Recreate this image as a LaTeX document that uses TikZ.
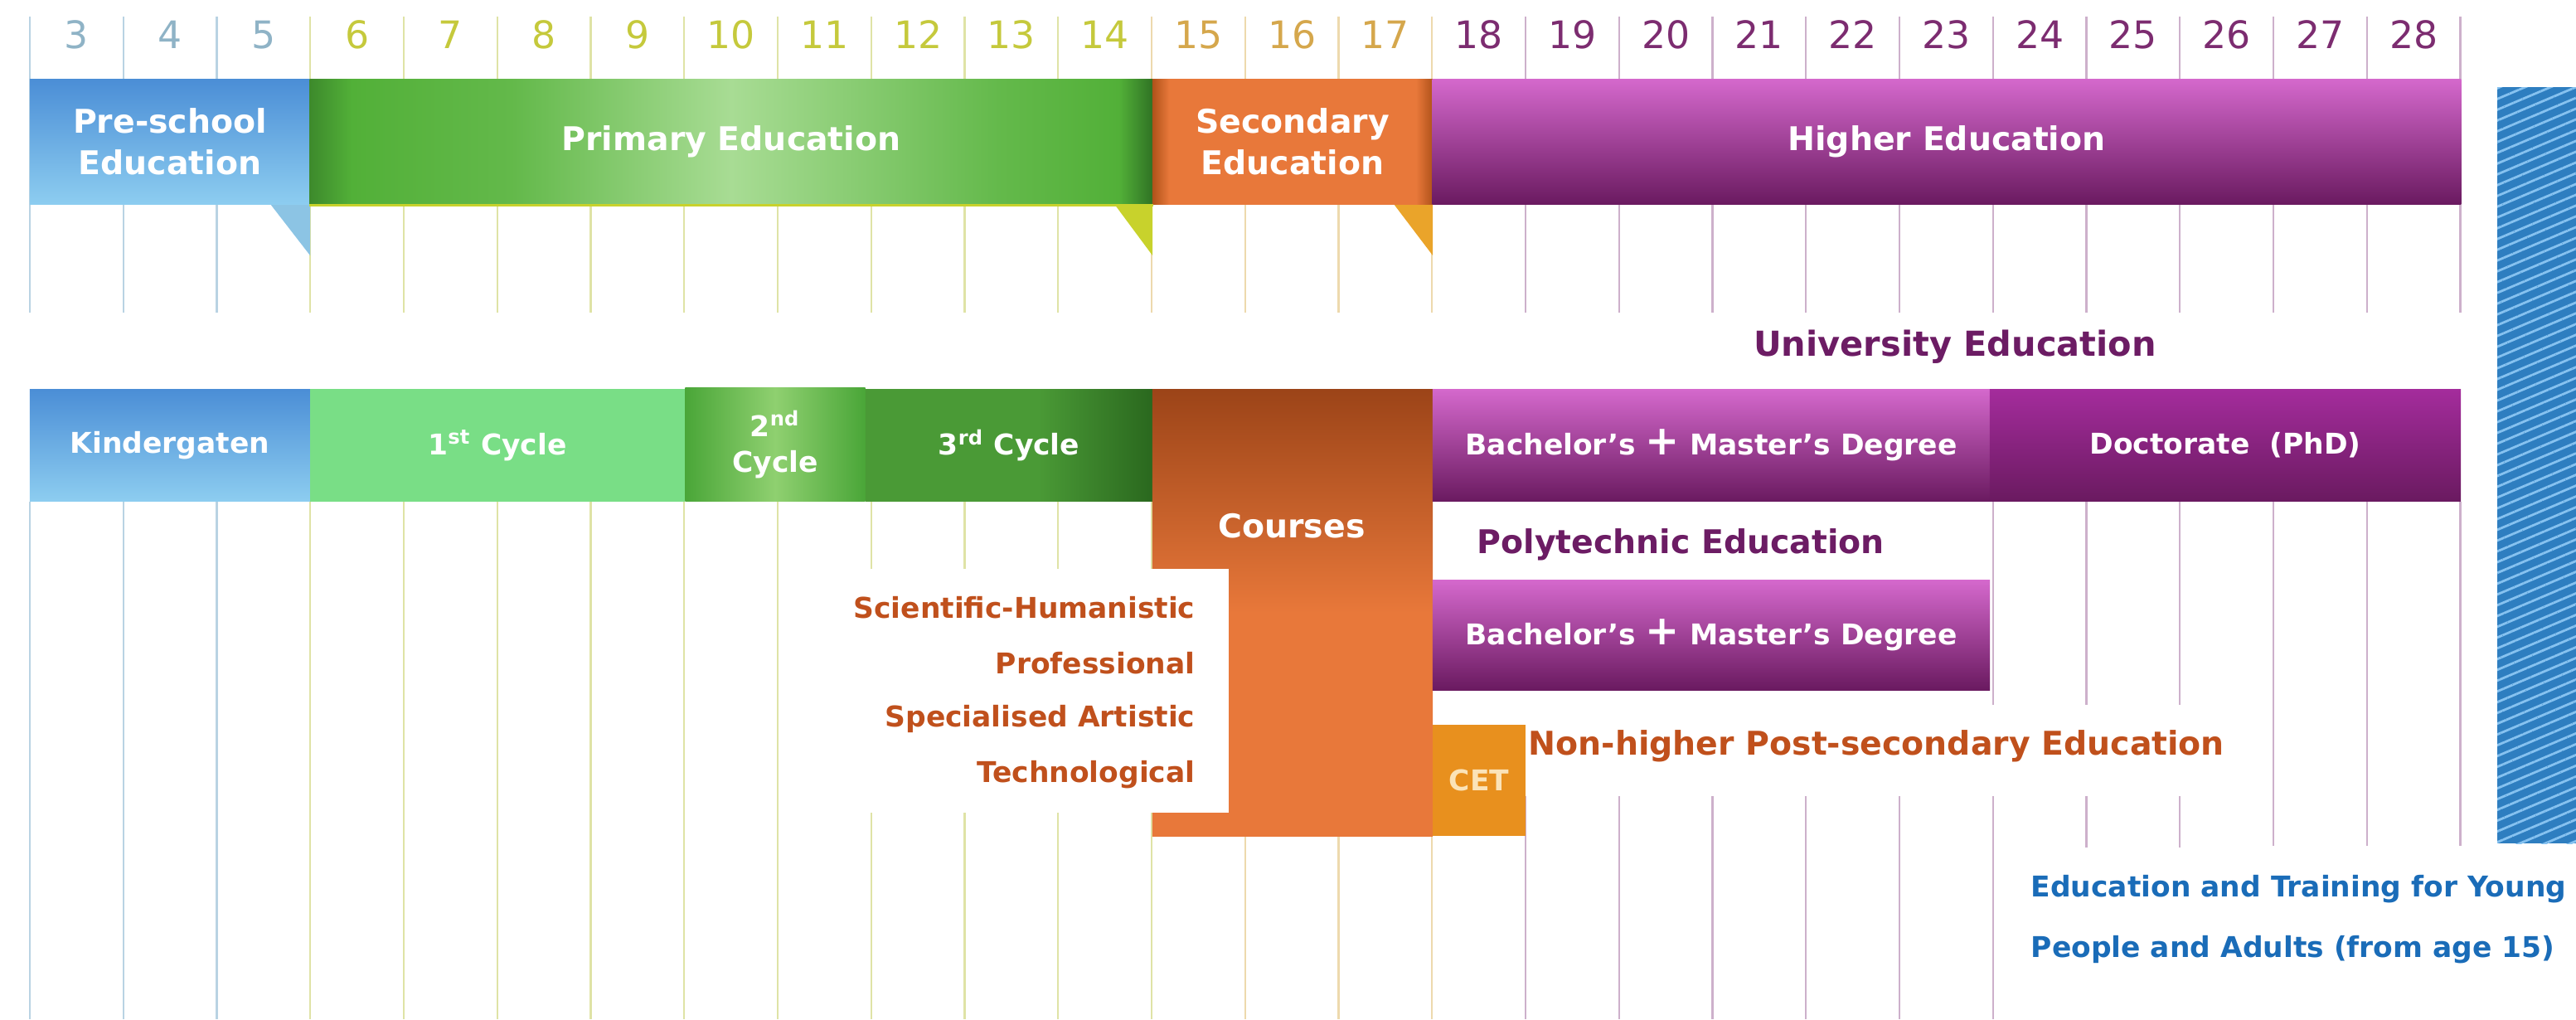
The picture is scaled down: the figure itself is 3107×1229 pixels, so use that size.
\documentclass[tikz,border=0pt]{standalone}
\usepackage{fontspec}
\setmainfont{DejaVu Sans}
\usepackage{xcolor}
\usepackage{tikz}
\usetikzlibrary{patterns.meta}

\definecolor{skyblue}{HTML}{4B8ED6}
\definecolor{paleblue}{HTML}{8DCDF0}
\definecolor{lineblue}{HTML}{B9D3E3}
\definecolor{numblue}{HTML}{8FB3C6}
\definecolor{numgreen}{HTML}{C5C93C}
\definecolor{linegreen}{HTML}{DFE3A6}
\definecolor{numgold}{HTML}{D5A74C}
\definecolor{linegold}{HTML}{EDD9AD}
\definecolor{numpurple}{HTML}{7C2C70}
\definecolor{linepurple}{HTML}{CDB0CB}
\definecolor{purpletop}{HTML}{D468CC}
\definecolor{purplemid}{HTML}{A42C9C}
\definecolor{purplebot}{HTML}{6A1A60}
\definecolor{textpurple}{HTML}{6C1C64}
\definecolor{textorange}{HTML}{C0501C}
\definecolor{cetorange}{HTML}{E8901E}
\definecolor{cettext}{HTML}{FBE3B8}
\definecolor{cyclegreen}{HTML}{79DE86}
\definecolor{hatchblue}{HTML}{2E7EC0}
\definecolor{stripeblue}{HTML}{86C2F0}
\definecolor{textblue}{HTML}{1A6CB8}
\definecolor{tabblue}{HTML}{8CC4E4}
\definecolor{tabgreen}{HTML}{C8D22C}
\definecolor{tabgold}{HTML}{EAA42A}
\definecolor{pgdark}{HTML}{3D8A2C}
\definecolor{pgbright}{HTML}{52B038}
\definecolor{pglight}{HTML}{A8DC94}
\definecolor{pgdeep}{HTML}{2F7224}
\definecolor{sgedge}{HTML}{B0521A}
\definecolor{sgmain}{HTML}{E8783A}
\definecolor{csdeep}{HTML}{9C4418}
\definecolor{cgedge}{HTML}{4AA638}
\definecolor{cglight}{HTML}{8FD070}
\definecolor{tgedge}{HTML}{2A681E}
\definecolor{tgmain}{HTML}{4A9A36}

\pgfdeclarehorizontalshading{primaryshade}{100bp}{color(0bp)=(pgdark); color(25bp)=(pgdark); color(27.5bp)=(pgbright); color(37bp)=(pgbright!80!pglight); color(50bp)=(pglight); color(66bp)=(pgbright!80!pglight); color(73bp)=(pgbright); color(75bp)=(pgdeep); color(100bp)=(pgdeep)}
\pgfdeclarehorizontalshading{secondshade}{100bp}{color(0bp)=(sgedge); color(25bp)=(sgedge); color(28bp)=(sgmain); color(72bp)=(sgmain); color(75bp)=(sgedge); color(100bp)=(sgedge)}
\pgfdeclareverticalshading{courseshade}{100bp}{color(0bp)=(sgmain); color(25bp)=(sgmain); color(50bp)=(sgmain); color(75bp)=(csdeep); color(100bp)=(csdeep)}
\pgfdeclarehorizontalshading{cycletwoshade}{100bp}{color(0bp)=(cgedge); color(25bp)=(cgedge); color(50bp)=(cglight); color(75bp)=(cgedge); color(100bp)=(cgedge)}
\pgfdeclarehorizontalshading{cyclethreeshade}{100bp}{color(0bp)=(tgmain); color(25bp)=(tgmain); color(55bp)=(tgmain); color(75bp)=(tgedge); color(100bp)=(tgedge)}

\newcommand{\agefont}{\fontsize{13}{15}\selectfont}
\newcommand{\headfont}{\fontsize{11.2}{14.2}\selectfont\bfseries}
\newcommand{\cellfont}{\fontsize{9.8}{12.4}\selectfont\bfseries}
\newcommand{\namefont}{\fontsize{11.2}{13}\selectfont\bfseries}
\newcommand{\trackfont}{\fontsize{9.8}{12}\selectfont\bfseries}
\newcommand{\bigplus}{{\fontsize{14}{12}\selectfont +}}

\begin{document}
\begin{tikzpicture}[x=0.01cm, y=-0.01cm,
    grid/.style={line width=0.6pt},
    bar/.style={rectangle, inner sep=0pt, text=white, align=center},
    label/.style={inner sep=0pt, font=\namefont}]
    \useasboundingbox (0,0) rectangle (3107,1229);

    % ages and grid
    \foreach \from/\to/\c in {3/5/numblue,6/14/numgreen,15/17/numgold,18/28/numpurple}
        \foreach \a in {\from,...,\to}
            \node[text=\c, font=\agefont] (age\a) at ({36+112.75*(\a-2.5)},42) {\a};
    \foreach \from/\to/\c in {0/2/lineblue,3/11/linegreen,12/15/linegold,16/26/linepurple}
        \foreach \k in {\from,...,\to}
            \draw[grid,\c] ({36+112.75*\k},20) -- ({36+112.75*\k},377);
    \foreach \from/\to/\c in {0/2/lineblue,3/12/linegreen,13/15/linegold}
        \foreach \k in {\from,...,\to}
            \draw[grid,\c] ({36+112.75*\k},605) -- ({36+112.75*\k},1229);
    \foreach \k in {16,...,21}
        \draw[grid,linepurple] ({36+112.75*\k},960) -- ({36+112.75*\k},1229);
    \foreach \k in {21,22,23}
        \draw[grid,linepurple] ({36+112.75*\k},605) -- ({36+112.75*\k},850);
    \foreach \k in {22,23}
        \draw[grid,linepurple] ({36+112.75*\k},960) -- ({36+112.75*\k},1022);
    \foreach \k in {24,25,26}
        \draw[grid,linepurple] ({36+112.75*\k},605) -- ({36+112.75*\k},1020);

    % levels
    \fill[tabblue] (326,246) -- (374,246) -- (374,308) -- cycle;
    \fill[tabgreen] (1344,246) -- (1390,246) -- (1390,308) -- cycle;
    \fill[tabgold] (1681,246) -- (1728,246) -- (1728,308) -- cycle;
    \node[bar, minimum width=3.38cm, minimum height=1.51cm, top color=skyblue, bottom color=paleblue, font=\headfont] (preschool) at (205,171) {Pre-school\\Education};
    \node[bar, minimum width=10.16cm, minimum height=1.51cm, shading=primaryshade, font=\headfont] (primary) at (882,171) {Primary Education};
    \node[bar, minimum width=3.38cm, minimum height=1.51cm, shading=secondshade, font=\headfont] (secondary) at (1559,171) {Secondary\\Education};
    \node[bar, minimum width=12.40cm, minimum height=1.51cm, top color=purpletop, middle color=purplemid, bottom color=purplebot, font=\headfont] (higher) at (2348,171) {Higher Education};
    \draw[tabgreen, line width=1pt] (primary.south west) -- (primary.south east);

    % paths
    \node[label, text=textpurple, font=\fontsize{11.8}{14}\selectfont\bfseries] (university) at (2358,418) {University Education};
    \node[bar, minimum width=3.38cm, minimum height=1.35cm, top color=skyblue, bottom color=paleblue, font=\cellfont] (kinder) at (205,537) {Kindergaten};
    \node[bar, minimum width=4.52cm, minimum height=1.35cm, fill=cyclegreen, font=\cellfont] (cycle1) at (600,537) {1\textsuperscript{st} Cycle};
    \node[bar, minimum width=2.17cm, minimum height=1.37cm, shading=cycletwoshade, font=\cellfont] (cycle2) at (935,536) {2\textsuperscript{nd}\\Cycle};
    \node[bar, minimum width=3.46cm, minimum height=1.35cm, shading=cyclethreeshade, font=\cellfont] (cycle3) at (1217,537) {3\textsuperscript{rd} Cycle};
    \node[bar, minimum width=3.38cm, minimum height=5.38cm, shading=courseshade] (courses) at (1559,739) {};
    \node[label, text=white] (coursesname) at (1558,634) {Courses};
    \node[fill=white, minimum width=4.82cm, minimum height=2.93cm, inner sep=0pt] (trackbox) at (1241,833) {};
    \foreach \t [count=\i] in {Scientific-Humanistic,Professional,Specialised Artistic,Technological}
        \node[inner sep=0pt, anchor=east, text=textorange, font=\trackfont] (track\i) at (1442,{733+67*(\i-1)}) {\t};
    \node[bar, minimum width=6.72cm, minimum height=1.35cm, top color=purpletop, middle color=purplemid, bottom color=purplebot, font=\cellfont] (unibachelor) at (2064,537) {Bachelor’s \bigplus\ Master’s Degree};
    \node[bar, minimum width=5.68cm, minimum height=1.35cm, top color=purplemid, bottom color=purplebot, font=\cellfont] (phd) at (2684,537) {Doctorate~ (PhD)};
    \node[label, anchor=west, text=textpurple] (polytechnic) at (1781,657) {Polytechnic Education};
    \node[bar, minimum width=6.72cm, minimum height=1.32cm, top color=purpletop, middle color=purplemid, bottom color=purplebot, font=\cellfont] (polybachelor) at (2064,766) {Bachelor’s \bigplus\ Master’s Degree};
    \node[bar, minimum width=1.12cm, minimum height=1.34cm, fill=cetorange, text=cettext, font=\cellfont] (cet) at (1784,941) {CET};
    \node[label, anchor=west, text=textorange] (postsecondary) at (1843,900) {Non-higher Post-secondary Education};

    % adults
    \path[fill=hatchblue, postaction={pattern={Lines[angle=23,distance=3.4pt,line width=0.8pt]}, pattern color=stripeblue}] (3012,105) rectangle (3130,1017);
    \node[inner sep=0pt, anchor=west, text=textblue, font=\trackfont] (adults1) at (2449,1072) {Education and Training for Young};
    \node[inner sep=0pt, anchor=west, text=textblue, font=\trackfont] (adults2) at (2449,1145) {People and Adults (from age 15)};
\end{tikzpicture}
\end{document}
